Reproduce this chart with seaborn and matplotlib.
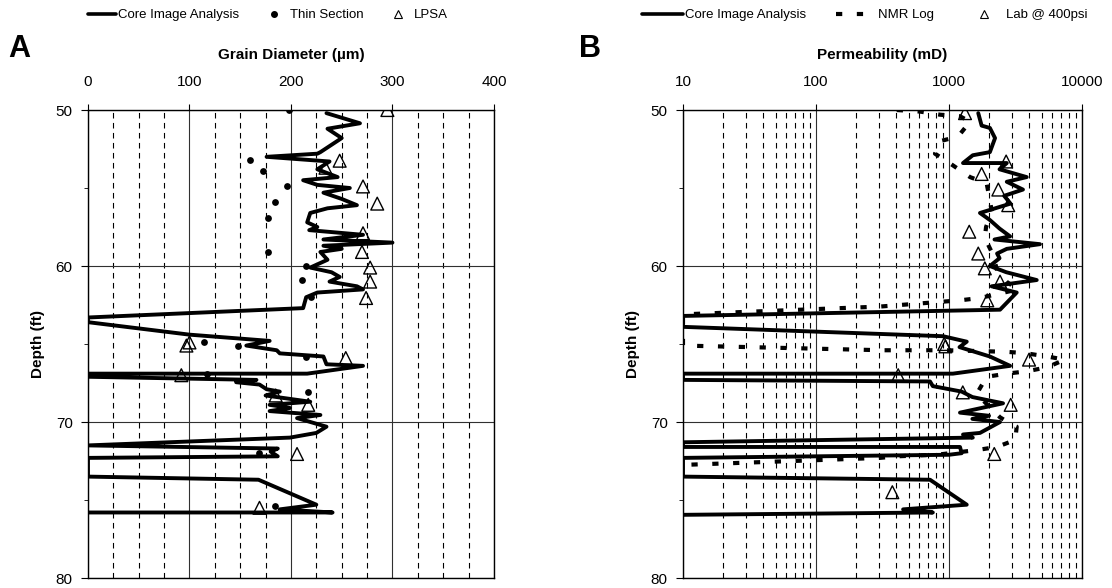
import matplotlib
matplotlib.use('Agg')
import matplotlib.pyplot as plt
import matplotlib.ticker as mticker
from matplotlib.lines import Line2D
import seaborn as sns

# ---- Panel A: grain diameter (um) vs depth (ft) ----
core_gd = [235, 268, 236, 250, 229, 226, 176, 238, 226, 246, 212, 226, 258, 232, 250, 265, 236, 219,
           216, 226, 218, 271, 232, 300, 232, 250, 229, 236, 219, 240, 248, 238, 265, 271, 226, 215,
           212, 0, 0, 100, 179, 156, 186, 189, 232, 235, 271, 216, 0, 0, 166, 146, 169, 176, 189,
           175, 219, 179, 199, 179, 229, 206, 235, 225, 199, 0, 187, 180, 187, 0, 0, 168, 225, 189,
           241, 0]
core_gd_depth = [50.2, 50.85, 51.2, 51.8, 52.7, 52.8, 53.0, 53.3, 53.8, 54.3, 54.5, 54.8, 55.0, 55.3,
                 55.7, 56.1, 56.3, 56.6, 57.2, 57.5, 57.7, 58.0, 58.3, 58.5, 58.7, 58.9, 59.1, 59.6,
                 60.1, 60.4, 60.7, 61.0, 61.3, 61.5, 61.7, 62.0, 62.7, 63.3, 63.6, 64.4, 64.8, 65.1,
                 65.4, 65.6, 65.8, 66.3, 66.4, 66.9, 66.9, 67.1, 67.3, 67.45, 67.6, 67.9, 68.05, 68.3,
                 68.7, 68.9, 69.1, 69.3, 69.55, 69.75, 70.3, 70.7, 71.0, 71.5, 71.7, 71.9, 72.2, 72.3,
                 73.5, 73.7, 75.3, 75.6, 75.8, 75.8]

thin_gd = [198, 160, 172, 196, 184, 177, 177, 215, 211, 220, 114, 148, 215, 117, 217, 169, 184]
thin_depth = [50.0, 53.2, 53.9, 54.9, 55.9, 56.9, 59.1, 60.0, 60.9, 62.0, 64.85, 65.1, 65.85, 66.9,
              68.1, 72.0, 75.4]

lpsa_gd = [295, 248, 234, 271, 285, 271, 270, 278, 278, 274, 97, 100, 254, 92, 185, 217, 206, 169]
lpsa_depth = [50.0, 53.25, 53.7, 54.9, 56.0, 57.9, 59.1, 60.1, 61.0, 62.05, 65.1, 64.9, 65.9, 67.0,
              68.3, 68.9, 72.05, 75.5]

# ---- Panel B: permeability (mD) vs depth (ft) ----
core_k = [1660, 1760, 2030, 2220, 2030, 1510, 1275, 2720, 2400, 3840, 2720, 3600, 2600, 2900, 1710,
          2030, 2400, 2880, 2200, 4830, 2720, 2300, 2400, 2030, 2700, 4570, 2090, 3230, 2420, 10, 10,
          902, 1360, 1200, 2030, 2880, 1070, 10, 10, 720, 756, 1245, 1500, 2550, 1210, 2000, 1500,
          2420, 1710, 1275, 1510, 10, 10, 1210, 1245, 1000, 10, 10, 720, 1360, 452, 756, 10]
core_k_depth = [50.2, 51.0, 51.15, 51.8, 52.7, 52.9, 53.4, 53.4, 53.8, 54.3, 54.6, 55.1, 55.5, 56.0,
                56.6, 57.05, 57.6, 58.1, 58.3, 58.6, 58.9, 59.2, 59.5, 60.0, 60.4, 60.9, 61.3, 61.7,
                62.8, 63.2, 63.9, 64.5, 64.85, 65.2, 65.8, 66.4, 66.9, 66.9, 67.3, 67.4, 67.7, 68.05,
                68.4, 68.8, 69.4, 69.6, 69.8, 70.0, 70.7, 70.8, 71.0, 71.3, 71.6, 71.6, 72.0, 72.1,
                72.3, 73.5, 73.7, 75.3, 75.6, 75.8, 75.95]

nmr_k = [405, 605, 855, 1210, 1440, 1170, 855, 785, 1050, 1440, 1920, 2000, 2100, 1900, 1860, 2150,
         2300, 2700, 3300, 1710, 1210, 855, 605, 302, 10, 10, 319, 960, 2720, 3840, 5430, 7450, 5430,
         3840, 2720, 1920, 1615, 2000, 2420, 3020, 3230, 3150, 2290, 1615, 807, 405, 302, 10]
nmr_depth = [50.0, 50.1, 50.3, 50.4, 50.75, 51.7, 52.0, 52.8, 53.5, 54.3, 54.7, 55.5, 56.5, 57.5, 58.2,
             59.3, 60.3, 61.0, 61.5, 62.05, 62.2, 62.3, 62.4, 62.6, 63.1, 65.1, 65.4, 65.4, 65.5, 65.6,
             65.8, 66.0, 66.5, 66.75, 66.9, 67.1, 68.2, 69.0, 69.7, 70.2, 70.3, 71.15, 71.6, 71.8, 72.1,
             72.2, 72.3, 72.75]

lab_k = [1320, 2690, 1760, 2350, 2790, 1420, 1660, 1860, 2420, 1940, 920, 940, 4000, 415, 1270, 2910,
         2190, 375]
lab_depth = [50.2, 53.3, 54.1, 55.1, 56.1, 57.8, 59.2, 60.15, 61.0, 62.2, 65.0, 65.15, 66.0, 67.0,
             68.1, 68.9, 72.05, 74.5]

sns.set_style('white')
plt.rcParams['font.family'] = ['Liberation Sans', 'DejaVu Sans']
plt.rcParams.update({'text.color': 'black', 'axes.labelcolor': 'black',
                     'xtick.color': 'black', 'ytick.color': 'black'})

fig = plt.figure(figsize=(11.12, 5.88), dpi=100)
ax1 = fig.add_axes([0.0791, 0.0170, 0.3651, 0.7959])
ax2 = fig.add_axes([0.6142, 0.0170, 0.3588, 0.7959])
ax2.set_xscale('log')

nmr_ls = (0, (1.5, 3.5))

# panel A data
sns.lineplot(x=core_gd, y=core_gd_depth, sort=False, estimator=None, color='black', lw=2.8, ax=ax1)
sns.scatterplot(x=thin_gd, y=thin_depth, color='black', s=24, linewidth=0, ax=ax1, zorder=3)
sns.scatterplot(x=lpsa_gd, y=lpsa_depth, marker='^', color='none', edgecolor='black', linewidth=1,
                s=85, ax=ax1, zorder=4)

# panel B data
sns.lineplot(x=core_k, y=core_k_depth, sort=False, estimator=None, color='black', lw=2.8, ax=ax2)
sns.lineplot(x=nmr_k, y=nmr_depth, sort=False, estimator=None, color='black', lw=3,
             linestyle=nmr_ls, ax=ax2)
sns.scatterplot(x=lab_k, y=lab_depth, marker='^', color='none', edgecolor='black', linewidth=1,
                s=85, ax=ax2, zorder=4)

ax1.set_xlim(0, 400)
ax1.xaxis.set_major_locator(mticker.MultipleLocator(100))
ax1.xaxis.set_minor_locator(mticker.MultipleLocator(25))
ax1.set_xlabel('Grain Diameter (µm)', fontsize=11, fontweight='bold', labelpad=12)

ax2.set_xlim(10, 10000)
ax2.xaxis.set_major_locator(mticker.LogLocator(base=10))
ax2.xaxis.set_minor_locator(mticker.LogLocator(base=10, subs=range(2, 10)))
ax2.xaxis.set_major_formatter(mticker.FuncFormatter(lambda v, _: f'{v:g}'))
ax2.xaxis.set_minor_formatter(mticker.NullFormatter())
ax2.set_xlabel('Permeability (mD)', fontsize=11, fontweight='bold', labelpad=12)

for ax in (ax1, ax2):
    ax.set_ylim(80, 50)
    ax.yaxis.set_major_locator(mticker.MultipleLocator(10))
    ax.yaxis.set_minor_locator(mticker.MultipleLocator(5))
    ax.set_ylabel('Depth (ft)', fontsize=11, fontweight='bold', labelpad=8)
    ax.xaxis.tick_top()
    ax.xaxis.set_label_position('top')
    ax.tick_params(axis='x', which='major', direction='out', length=4, pad=11, labelsize=11,
                   top=True, bottom=False)
    ax.tick_params(axis='x', which='minor', length=0)
    ax.tick_params(axis='y', which='major', direction='out', length=5, pad=6, labelsize=11, left=True)
    ax.tick_params(axis='y', which='minor', direction='out', length=3, left=True)
    ax.set_axisbelow(True)
    ax.grid(which='major', axis='x', color='#303030', lw=0.8)
    ax.grid(which='minor', axis='x', color='black', lw=0.8, linestyle=(0, (5, 4)))
    ax.grid(which='major', axis='y', color='#303030', lw=0.8)
    for sp in ax.spines.values():
        sp.set_visible(True)
        sp.set_color('black')
        sp.set_linewidth(1)
    if ax.get_legend() is not None:
        ax.get_legend().remove()

# legends
h1 = [Line2D([], [], color='black', lw=2.6),
      Line2D([], [], color='black', marker='o', ls='none', markersize=4),
      Line2D([], [], color='black', marker='^', ls='none', markersize=6, mfc='none', mew=0.8)]
fig.legend(h1, ['Core Image Analysis', 'Thin Section', 'LPSA'], loc='center',
           bbox_to_anchor=(0.241, 0.974), ncol=3, frameon=False, fontsize=9.5,
           handlelength=2.1, handletextpad=0.15, columnspacing=1.6)

h2 = [Line2D([], [], color='black', lw=2.6),
      Line2D([], [], color='black', lw=3, linestyle=nmr_ls),
      Line2D([], [], color='black', marker='^', ls='none', markersize=6, mfc='none', mew=0.8)]
fig.legend(h2, ['Core Image Analysis', 'NMR Log', 'Lab @ 400psi'], loc='center',
           bbox_to_anchor=(0.778, 0.974), ncol=3, frameon=False, fontsize=9.5,
           handlelength=3.1, handletextpad=0.15, columnspacing=2.2)

fig.text(0.0171, 0.9167, 'A', fontsize=22, fontweight='bold', ha='center', va='center')
fig.text(0.5306, 0.9167, 'B', fontsize=22, fontweight='bold', ha='center', va='center')

fig.savefig('out.png', dpi=100)
